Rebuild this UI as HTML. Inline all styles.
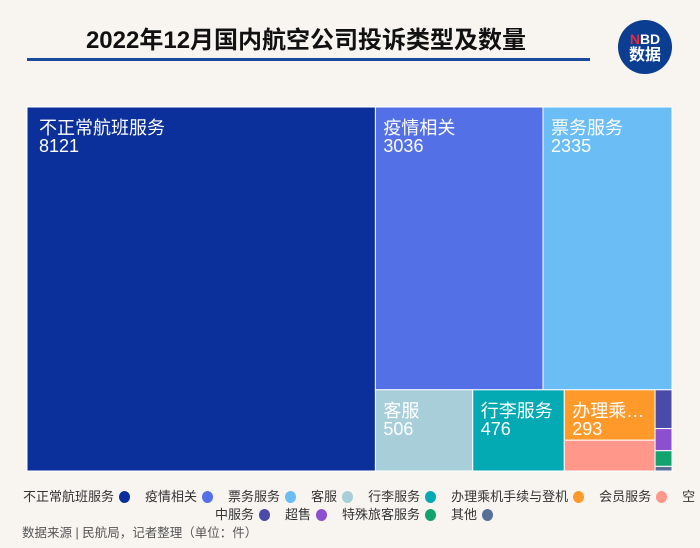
<!DOCTYPE html>
<html><head><meta charset="utf-8">
<style>
body{margin:0;width:700px;height:548px;background:#f8f5f0;overflow:hidden;position:relative;font-family:"Liberation Sans","Noto Sans CJK SC",sans-serif;}
.title{position:absolute;left:0;width:612px;top:20px;text-align:center;font-size:24px;font-weight:bold;color:#111;}
.rule{position:absolute;left:27px;top:58px;width:563px;height:3px;background:#1a4a9c;}
.logo{position:absolute;left:618px;top:20px;width:54px;height:54px;border-radius:50%;background:#0b3d91;color:#fff;text-align:center;font-weight:bold;font-size:14px;line-height:16px;padding-top:11px;box-sizing:border-box;}
.legend{position:absolute;font-size:13px;color:#333;white-space:nowrap;}
.legend span.item{margin-right:15px;}
.dot{display:inline-block;width:11px;height:12px;border-radius:50%;vertical-align:-2px;margin-left:5px;}
.src{position:absolute;left:22px;top:522px;font-size:12.5px;color:#555;}
svg{position:absolute;left:0;top:0;}
</style></head><body>
<div class="title">2022年12月国内航空公司投诉类型及数量</div>
<div class="rule"></div>
<div class="logo"><span style="color:#e8283c">N</span>BD<br><span style="font-size:16px">数据</span></div>
<svg id="chart" width="700" height="548"></svg>
<div class="legend" style="left:23px;top:486px" id="leg1"></div>
<div class="legend" style="left:215px;top:504px" id="leg2"></div>
<div class="src">数据来源 | 民航局，记者整理（单位：件）</div>
<script>
const categories=["不正常航班服务","疫情相关","票务服务","客服","行李服务","办理乘机手续与登机","会员服务","空中服务","超售","特殊旅客服务","其他"];
const values=[8121,3036,2335,506,476,293,179,42,24,17,5];
const colors=["#0b2f9b","#5470e6","#6bbdf5","#a8cfd9","#03a9b3","#ff9a2a","#ff978b","#4a4aa8","#8c4fcf","#12a36f","#586f98"];
const labels=["不正常航班服务","疫情相关","票务服务","客服","行李服务","办理乘…","","","","",""];
const X0=27,Y0=107,X1=672,Y1=471;
const NS="http://www.w3.org/2000/svg";
const svg=document.getElementById('chart');
const rects=[];
(function squarify(){
  const ratio=(1+Math.sqrt(5))/2;
  let x0=X0,y0=Y0,x1=X1,y1=Y1;
  let value=values.reduce((a,b)=>a+b,0);
  let i0=0,i1=0,n=values.length;
  while(i0<n){
    const dx=x1-x0,dy=y1-y0;
    let sum=values[i1++];
    let minV=sum,maxV=sum;
    const alpha=Math.max(dy/dx,dx/dy)/(value*ratio);
    let beta=sum*sum*alpha;
    let minR=Math.max(maxV/beta,beta/minV);
    for(;i1<n;++i1){
      const v=values[i1];sum+=v;
      if(v<minV)minV=v;if(v>maxV)maxV=v;
      beta=sum*sum*alpha;
      const nr=Math.max(maxV/beta,beta/minV);
      if(nr>minR){sum-=v;break;}
      minR=nr;
    }
    if(dx<dy){
      const ny=y0+dy*sum/value;let cx=x0;
      for(let i=i0;i<i1;i++){const w=dx*values[i]/sum;rects.push([i,cx,y0,cx+w,ny]);cx+=w;}
      y0=ny;
    }else{
      const nx=x0+dx*sum/value;let cy=y0;
      for(let i=i0;i<i1;i++){const h=dy*values[i]/sum;rects.push([i,x0,cy,nx,cy+h]);cy+=h;}
      x0=nx;
    }
    value-=sum;i0=i1;
  }
})();
rects.forEach(([i,a,b,c,d])=>{
  const r=document.createElementNS(NS,'rect');
  r.setAttribute('x',a);r.setAttribute('y',b);r.setAttribute('width',c-a);r.setAttribute('height',d-b);
  r.setAttribute('fill',colors[i]);r.setAttribute('stroke','#ffffff');r.setAttribute('stroke-width','1');
  
  
  svg.appendChild(r);
  if(labels[i]){
    const off=(a<=X0+1)?12:8;
    const t=document.createElementNS(NS,'text');
    t.setAttribute('x',a+off);t.setAttribute('y',b+27);
    t.setAttribute('fill','#fff');t.setAttribute('font-size','18');
    t.textContent=labels[i];
    
    
    svg.appendChild(t);
    const v=document.createElementNS(NS,'text');
    v.setAttribute('x',a+off);v.setAttribute('y',b+45);
    v.setAttribute('fill','#fff');v.setAttribute('font-size','18');
    v.textContent=values[i];
    
    
    svg.appendChild(v);
  }
});
const legTexts=["不正常航班服务","疫情相关","票务服务","客服","行李服务","办理乘机手续与登机","会员服务","空"];
const leg1=document.getElementById('leg1'),leg2=document.getElementById('leg2');
legTexts.forEach((s,i)=>{
  const sp=document.createElement('span');sp.className='item';
  
  
  sp.innerHTML=s+(i<7?'<span class="dot" style="background:'+colors[i]+'"></span>':'');
  leg1.appendChild(sp);
});
["中服务","超售","特殊旅客服务","其他"].forEach((s,k)=>{
  const sp=document.createElement('span');sp.className='item';
  
  
  sp.innerHTML=s+'<span class="dot" style="background:'+colors[7+k]+'"></span>';
  leg2.appendChild(sp);
});
</script>
</body></html>
